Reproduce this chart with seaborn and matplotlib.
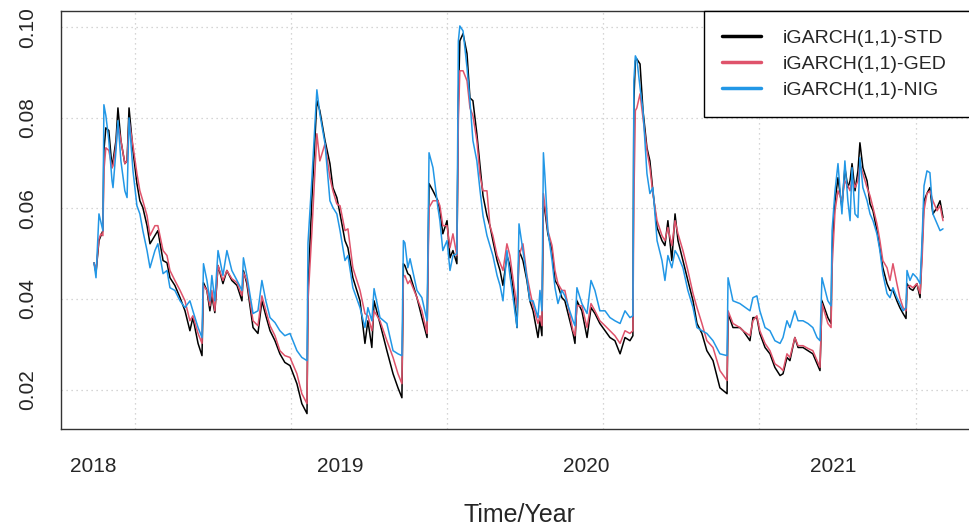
import numpy as np
import pandas as pd
import seaborn as sns
import matplotlib
matplotlib.use("Agg")
import matplotlib.pyplot as plt
from matplotlib.lines import Line2D

# time in decimal years
t = [2018.002, 2018.010, 2018.022, 2018.030, 2018.038, 2018.042, 2018.050, 2018.062, 2018.075, 2018.079,
     2018.091, 2018.099, 2018.111, 2018.127, 2018.136, 2018.144, 2018.160, 2018.176, 2018.188, 2018.200,
     2018.217, 2018.229, 2018.249, 2018.261, 2018.282, 2018.298, 2018.310, 2018.330, 2018.351, 2018.371,
     2018.391, 2018.403, 2018.424, 2018.440, 2018.446, 2018.460, 2018.472, 2018.480, 2018.492, 2018.505,
     2018.525, 2018.541, 2018.561, 2018.582, 2018.602, 2018.608, 2018.622, 2018.647, 2018.667, 2018.683,
     2018.699, 2018.716, 2018.736, 2018.756, 2018.776, 2018.797, 2018.825, 2018.845, 2018.866, 2018.870,
     2018.886, 2018.906, 2018.918, 2018.939, 2018.959, 2018.971, 2018.987, 2019.000, 2019.020, 2019.032,
     2019.052, 2019.081, 2019.101, 2019.113, 2019.129, 2019.138, 2019.162, 2019.190, 2019.215, 2019.235,
     2019.251, 2019.257, 2019.263, 2019.275, 2019.284, 2019.312, 2019.332, 2019.353, 2019.361, 2019.377,
     2019.397, 2019.405, 2019.417, 2019.434, 2019.446, 2019.458, 2019.474, 2019.480, 2019.486, 2019.499,
     2019.515, 2019.527, 2019.539, 2019.555, 2019.568, 2019.580, 2019.596, 2019.608, 2019.620, 2019.637,
     2019.649, 2019.661, 2019.677, 2019.689, 2019.701, 2019.718, 2019.726, 2019.742, 2019.758, 2019.770,
     2019.783, 2019.803, 2019.811, 2019.819, 2019.825, 2019.831, 2019.843, 2019.860, 2019.872, 2019.884,
     2019.900, 2019.912, 2019.925, 2019.945, 2019.953, 2019.961, 2019.981, 2020.002, 2020.018, 2020.034,
     2020.054, 2020.075, 2020.095, 2020.115, 2020.136, 2020.156, 2020.176, 2020.188, 2020.192, 2020.198,
     2020.204, 2020.217, 2020.229, 2020.245, 2020.257, 2020.269, 2020.286, 2020.306, 2020.318, 2020.330,
     2020.346, 2020.359, 2020.371, 2020.391, 2020.411, 2020.432, 2020.448, 2020.468, 2020.488, 2020.513,
     2020.541, 2020.570, 2020.574, 2020.594, 2020.622, 2020.635, 2020.663, 2020.675, 2020.691, 2020.703,
     2020.724, 2020.744, 2020.764, 2020.785, 2020.797, 2020.813, 2020.825, 2020.845, 2020.858, 2020.878,
     2020.898, 2020.918, 2020.935, 2020.947, 2020.955, 2020.979, 2020.992, 2020.996, 2021.008, 2021.020,
     2021.036, 2021.048, 2021.060, 2021.069, 2021.077, 2021.089, 2021.101, 2021.109, 2021.121, 2021.138,
     2021.150, 2021.162, 2021.178, 2021.190, 2021.202, 2021.219, 2021.231, 2021.243, 2021.259, 2021.271,
     2021.284, 2021.296, 2021.300, 2021.312, 2021.324, 2021.340, 2021.353, 2021.361, 2021.369, 2021.381,
     2021.393, 2021.405, 2021.422, 2021.434, 2021.446]

std = [.0480, .0458, .0529, .0540, .0551, .0728, .0778, .0772, .0690, .0705,
       .0750, .0822, .0750, .0699, .0705, .0822, .0728, .0655, .0617, .0602,
       .0562, .0522, .0540, .0551, .0485, .0480, .0447, .0430, .0403, .0374,
       .0330, .0359, .0302, .0275, .0436, .0419, .0374, .0407, .0370, .0474,
       .0434, .0463, .0441, .0430, .0396, .0463, .0434, .0337, .0324, .0396,
       .0363, .0330, .0308, .0279, .0260, .0253, .0213, .0169, .0147, .0419,
       .0624, .0838, .0816, .0750, .0699, .0646, .0624, .0588, .0529, .0513,
       .0447, .0396, .0302, .0352, .0293, .0396, .0346, .0286, .0235, .0204,
       .0182, .0478, .0474, .0456, .0452, .0403, .0359, .0315, .0655, .0639,
       .0617, .0595, .0544, .0573, .0491, .0507, .0478, .0838, .0970, .0986,
       .0942, .0844, .0838, .0765, .0694, .0628, .0584, .0562, .0529, .0485,
       .0463, .0430, .0496, .0474, .0430, .0337, .0507, .0485, .0441, .0396,
       .0374, .0315, .0352, .0319, .0617, .0595, .0544, .0507, .0441, .0430,
       .0403, .0396, .0368, .0324, .0302, .0396, .0374, .0315, .0381, .0368,
       .0346, .0330, .0315, .0308, .0279, .0315, .0308, .0319, .0838, .0926,
       .0930, .0919, .0816, .0734, .0705, .0639, .0558, .0529, .0518, .0573,
       .0485, .0588, .0529, .0485, .0441, .0396, .0346, .0324, .0286, .0264,
       .0204, .0191, .0368, .0337, .0337, .0330, .0308, .0359, .0359, .0324,
       .0293, .0279, .0249, .0231, .0235, .0271, .0264, .0315, .0293, .0293,
       .0286, .0279, .0257, .0242, .0396, .0359, .0346, .0507, .0617, .0668,
       .0602, .0690, .0646, .0661, .0699, .0639, .0683, .0745, .0690, .0661,
       .0610, .0595, .0551, .0513, .0469, .0434, .0419, .0419, .0396, .0381,
       .0368, .0357, .0434, .0423, .0419, .0434, .0403, .0513, .0617, .0633,
       .0646, .0588, .0602, .0617, .0580]

ged = [.0480, .0463, .0533, .0544, .0540, .0683, .0734, .0728, .0690, .0694,
       .0739, .0787, .0750, .0699, .0705, .0794, .0739, .0677, .0639, .0617,
       .0584, .0540, .0562, .0562, .0507, .0496, .0463, .0441, .0419, .0396,
       .0352, .0363, .0324, .0302, .0430, .0419, .0385, .0419, .0374, .0474,
       .0441, .0463, .0445, .0436, .0407, .0458, .0441, .0352, .0341, .0407,
       .0374, .0341, .0319, .0286, .0275, .0271, .0235, .0191, .0169, .0396,
       .0551, .0765, .0705, .0743, .0668, .0639, .0610, .0606, .0551, .0555,
       .0469, .0419, .0368, .0363, .0330, .0374, .0352, .0308, .0271, .0235,
       .0213, .0447, .0452, .0434, .0441, .0403, .0374, .0324, .0602, .0617,
       .0617, .0606, .0562, .0562, .0513, .0544, .0496, .0794, .0904, .0904,
       .0882, .0822, .0805, .0750, .0672, .0639, .0639, .0562, .0540, .0496,
       .0480, .0463, .0522, .0496, .0447, .0381, .0496, .0522, .0452, .0419,
       .0385, .0346, .0363, .0341, .0633, .0606, .0551, .0518, .0463, .0434,
       .0419, .0419, .0385, .0330, .0319, .0385, .0385, .0337, .0390, .0374,
       .0352, .0341, .0330, .0319, .0302, .0330, .0324, .0330, .0617, .0816,
       .0822, .0853, .0800, .0728, .0690, .0633, .0573, .0540, .0529, .0558,
       .0518, .0573, .0544, .0507, .0463, .0412, .0381, .0346, .0308, .0293,
       .0242, .0220, .0374, .0346, .0337, .0330, .0319, .0352, .0363, .0330,
       .0302, .0286, .0257, .0249, .0242, .0279, .0271, .0315, .0297, .0297,
       .0291, .0286, .0264, .0249, .0390, .0346, .0337, .0469, .0595, .0639,
       .0617, .0661, .0650, .0639, .0668, .0646, .0661, .0699, .0677, .0646,
       .0628, .0602, .0566, .0529, .0485, .0469, .0441, .0478, .0434, .0403,
       .0381, .0374, .0425, .0430, .0425, .0434, .0412, .0485, .0595, .0633,
       .0639, .0617, .0595, .0606, .0573]

nig = [.0480, .0447, .0588, .0569, .0551, .0829, .0805, .0750, .0661, .0646,
       .0728, .0794, .0705, .0639, .0624, .0800, .0683, .0606, .0588, .0551,
       .0507, .0469, .0507, .0522, .0456, .0463, .0425, .0419, .0396, .0381,
       .0396, .0374, .0337, .0315, .0478, .0441, .0396, .0452, .0396, .0507,
       .0452, .0507, .0463, .0441, .0419, .0491, .0452, .0368, .0374, .0441,
       .0396, .0359, .0348, .0330, .0319, .0324, .0286, .0271, .0264, .0524,
       .0668, .0862, .0809, .0743, .0617, .0602, .0588, .0551, .0485, .0496,
       .0425, .0381, .0337, .0381, .0352, .0423, .0359, .0346, .0286, .0279,
       .0275, .0529, .0524, .0469, .0489, .0419, .0403, .0352, .0723, .0690,
       .0602, .0573, .0507, .0529, .0463, .0496, .0500, .0970, .1003, .0992,
       .0911, .0838, .0750, .0705, .0639, .0584, .0540, .0518, .0496, .0452,
       .0430, .0396, .0507, .0452, .0407, .0337, .0566, .0507, .0447, .0396,
       .0396, .0359, .0419, .0374, .0723, .0672, .0551, .0485, .0425, .0390,
       .0419, .0407, .0385, .0352, .0341, .0425, .0390, .0368, .0441, .0419,
       .0374, .0374, .0359, .0352, .0346, .0374, .0359, .0363, .0882, .0937,
       .0930, .0867, .0816, .0677, .0633, .0646, .0529, .0485, .0441, .0496,
       .0469, .0507, .0496, .0469, .0419, .0381, .0337, .0330, .0324, .0308,
       .0279, .0275, .0447, .0396, .0390, .0385, .0374, .0403, .0407, .0374,
       .0337, .0330, .0308, .0302, .0315, .0352, .0337, .0374, .0352, .0352,
       .0346, .0337, .0315, .0308, .0447, .0396, .0385, .0551, .0639, .0699,
       .0588, .0705, .0617, .0573, .0690, .0588, .0580, .0712, .0646, .0617,
       .0588, .0573, .0544, .0507, .0456, .0412, .0403, .0425, .0403, .0390,
       .0374, .0381, .0463, .0441, .0456, .0447, .0434, .0529, .0650, .0683,
       .0679, .0588, .0566, .0551, .0555]

models = ["iGARCH(1,1)-STD", "iGARCH(1,1)-GED", "iGARCH(1,1)-NIG"]
colors = ["#000000", "#DF536B", "#2297E6"]
year_ticks = [2018, 2019, 2020, 2021]
y_ticks = [0.02, 0.04, 0.06, 0.08, 0.10]
grid_x = [2018.168, 2018.801, 2019.433, 2020.066, 2020.698, 2021.335]

df = pd.DataFrame({"t": t * 3,
                   "vol": std + ged + nig,
                   "model": np.repeat(models, len(t))})

sns.set_style("white")
plt.rcParams["font.family"] = ["Liberation Sans", "DejaVu Sans"]

fig = plt.figure(figsize=(9.69, 5.27), dpi=100)
ax = fig.add_axes([61 / 969, 98 / 527, 917 / 969, 418 / 527])

# grid first so it stays underneath
for g in grid_x:
    ax.axvline(g, color="#c8c8c8", lw=0.9, ls=(0, (1, 3)), zorder=0)
for g in y_ticks:
    ax.axhline(g, color="#c8c8c8", lw=0.9, ls=(0, (1, 3)), zorder=0)

sns.lineplot(data=df, x="t", y="vol", hue="model", palette=dict(zip(models, colors)),
             estimator=None, errorbar=None, sort=False, lw=1.1, legend=False, ax=ax)

ax.set_xlim(2017.868, 2021.588)
ax.set_ylim(0.0113, 0.1036)
ax.set_xticks(year_ticks)
ax.set_xticklabels([str(y) for y in year_ticks])
ax.set_yticks(y_ticks)
ax.set_yticklabels([f"{v:.2f}" for v in y_ticks], rotation=90, va="center")
ax.tick_params(axis="x", direction="out", length=8, width=0.9, pad=12, labelsize=15, color="#333333")
ax.tick_params(axis="y", direction="out", length=9, width=0.9, pad=8, labelsize=15, color="#333333")
for s in ax.spines.values():
    s.set_color("#333333")
    s.set_linewidth(1.0)

ax.set_xlabel("Time/Year", fontsize=18)
ax.xaxis.set_label_coords(0.5, -0.205, transform=ax.transAxes)
ax.xaxis.label.set_va("center")
ax.set_ylabel("")

handles = [Line2D([0], [0], color=c, lw=2.5) for c in colors]
leg = ax.legend(handles, models, loc="upper left", bbox_to_anchor=(643 / 917, 0, 274 / 917, 1.0),
                mode="expand", borderaxespad=0, fontsize=14, frameon=True, fancybox=False,
                edgecolor="#000000", framealpha=1, handlelength=2.0, handletextpad=1.1,
                borderpad=0.95, labelspacing=0.42)
leg.get_frame().set_linewidth(1.0)

fig.savefig("out.png", dpi=100)
